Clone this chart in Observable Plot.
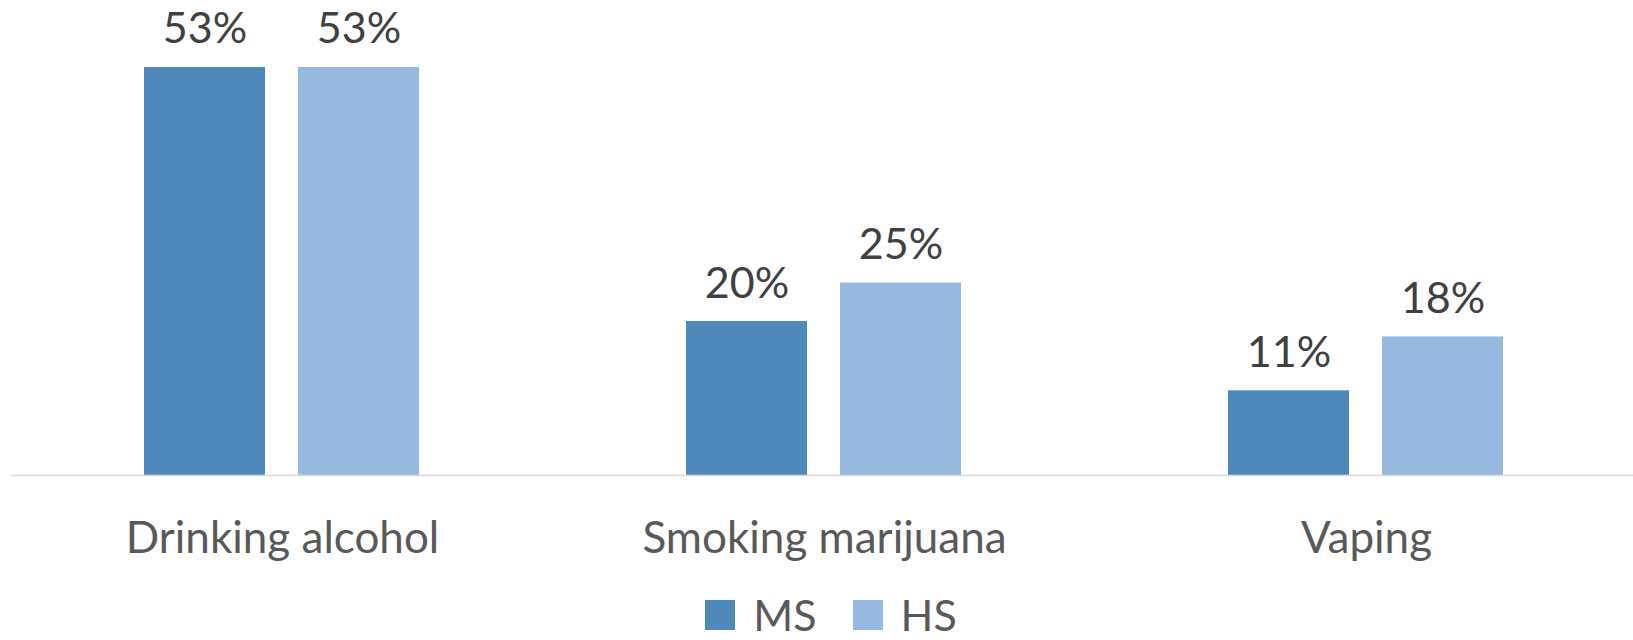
<!DOCTYPE html>
<html>
<head>
<meta charset="utf-8">
<script src="https://cdn.jsdelivr.net/npm/d3@7"></script>
<script src="https://cdn.jsdelivr.net/npm/@observablehq/plot@0.6"></script>
<style>
  html, body { margin: 0; padding: 0; background: white; overflow: hidden; }
  #chart svg { display: block; }
  .legend { display: flex; justify-content: center; align-items: center; height: 36px; padding-left: 29px;
            font-family: Lato, sans-serif; font-size: 43px; line-height: 36px; color: #595959; }
  .legend .item { display: flex; align-items: center; margin: 0 18px; }
  .legend .sw { width: 30px; height: 30px; margin-right: 18px; }
  .legend .lbl { line-height: 36px; height: 36px; }
</style>
</head>
<body>
<div id="chart"></div>
<script>
const categories = ["Drinking alcohol", "Smoking marijuana", "Vaping"];
const series = ["MS", "HS"];
const msValues = [53, 20, 11];
const hsValues = [53, 25, 18];
const colors = ["#4F89BC", "#98B9DF"];

const data = categories.flatMap((c, i) => [
  {category: c, series: "MS", value: msValues[i]},
  {category: c, series: "HS", value: hsValues[i]}
]);

const chart = Plot.plot({
  width: 1633,
  height: 597,
  marginLeft: 10,
  marginRight: -4,
  marginTop: 0,
  marginBottom: 122,
  fx: {domain: categories, padding: 0, axis: null},
  x: {domain: series, paddingInner: 0.212, paddingOuter: 0.863, axis: null},
  y: {domain: [0, 61.7], axis: null},
  color: {domain: series, range: colors},
  style: {fontFamily: "Lato, sans-serif", background: "white"},
  marks: [
    Plot.barY(data, {fx: "category", x: "series", y: "value", fill: "series"}),
    Plot.ruleY([0], {stroke: "#d9d9d9", strokeWidth: 1.5}),
    Plot.text(data, {fx: "category", x: "series", y: "value", text: d => d.value + "%",
      lineAnchor: "bottom", dy: -24, fontSize: 43, fill: "#404040"}),
    Plot.text(categories, {fx: d => d, text: d => d, frameAnchor: "bottom",
      lineAnchor: "bottom", dy: 77, fontSize: 44, fill: "#595959"})
  ]
});
document.getElementById("chart").appendChild(chart);

const legend = document.createElement("div");
legend.className = "legend";
series.forEach((s, i) => {
  const item = document.createElement("div");
  item.className = "item";
  const sw = document.createElement("span");
  sw.className = "sw";
  sw.style.background = colors[i];
  const label = document.createElement("span");
  label.className = "lbl";
  label.textContent = s;
  item.appendChild(sw);
  item.appendChild(label);
  legend.appendChild(item);
});
document.body.appendChild(legend);
</script>
</body>
</html>
